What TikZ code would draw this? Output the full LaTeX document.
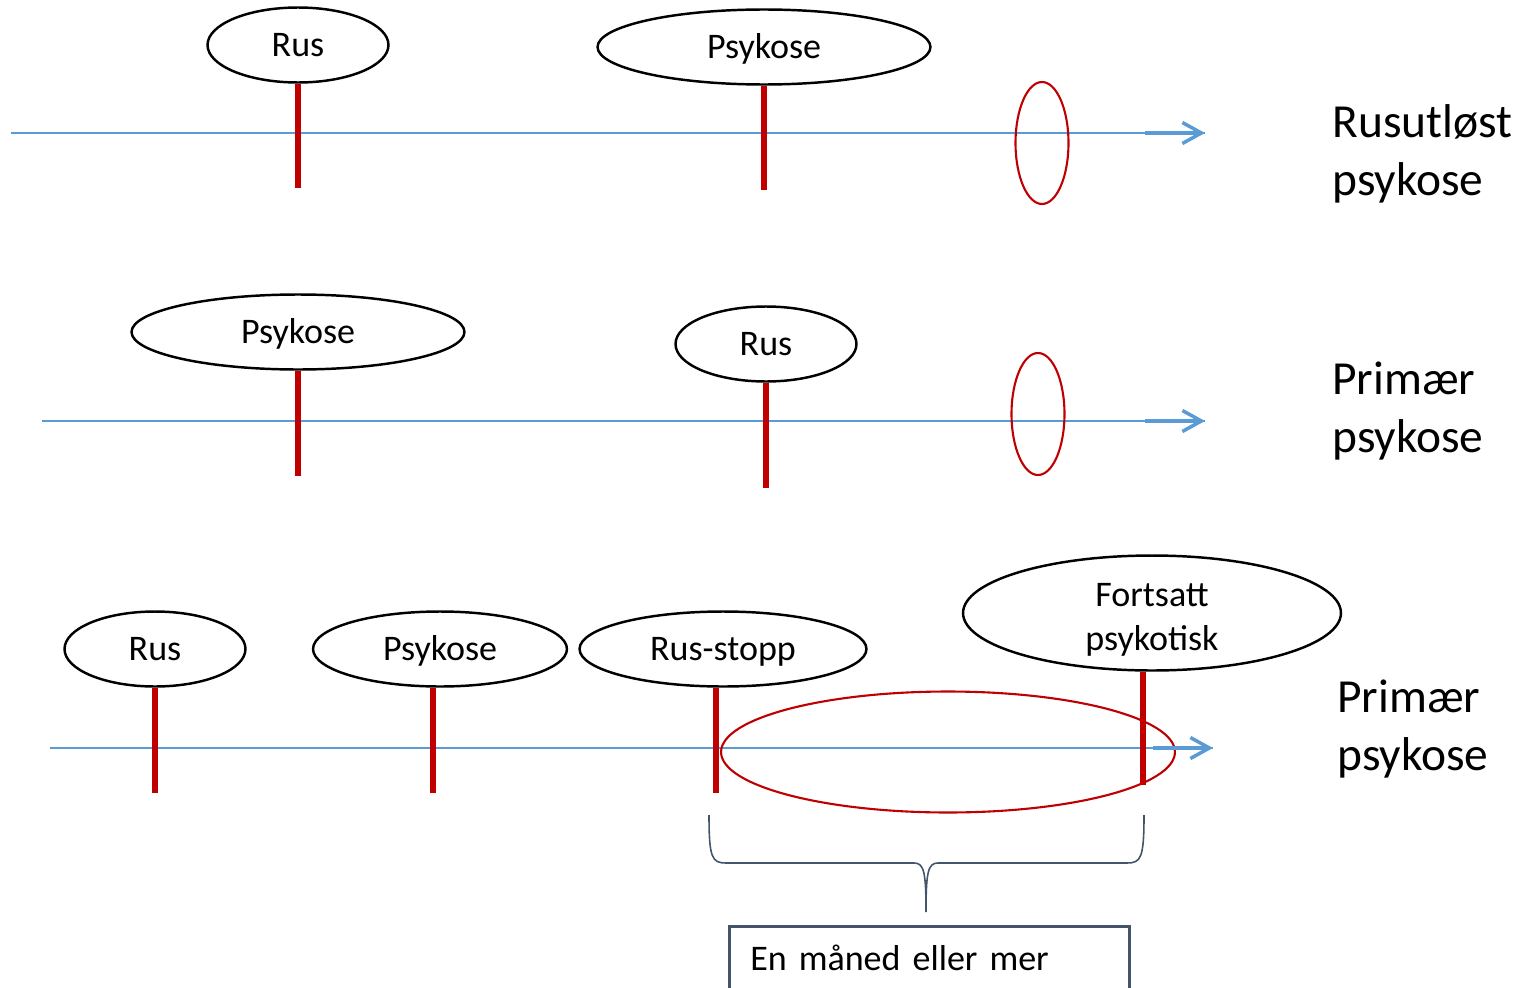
\documentclass[tikz,border=0pt]{standalone}
\usepackage{fontspec}
\setmainfont{Carlito}
\usetikzlibrary{shapes.geometric,arrows.meta}

\definecolor{axisblue}{RGB}{91,155,213}
\definecolor{stickred}{RGB}{192,0,0}
\definecolor{bracegray}{RGB}{68,84,106}

\begin{document}
\begin{tikzpicture}[x=0.02cm, y=-0.02cm,
				event/.style={ellipse, draw=black, line width=1.4pt, inner sep=0pt, minimum width=3.62cm, minimum height=1.5cm, align=center, text height=19pt, text depth=6pt, font=\fontsize{20.5}{25}\selectfont},
				window/.style={ellipse, draw=stickred, line width=1.2pt, inner sep=0pt},
				stick/.style={draw=stickred, line width=3.3pt},
				axis/.style={draw=axisblue, line width=0.75pt},
				arrowhead/.style={draw=axisblue, line width=2pt, -{Straight Barb[length=0.38cm, width=0.42cm]}},
				verdict/.style={anchor=west, inner sep=0pt, align=left, font=\fontsize{27}{33}\selectfont},
				period/.style={rectangle, draw=bracegray, line width=1.5pt, anchor=north west, inner xsep=0.42cm, inner ysep=0pt, text width=7.16cm, text height=0.88cm, text depth=1cm, align=left, font=\fontsize{20.5}{25}\selectfont}
			]
			\clip (0,0) rectangle (1521,987);

			% first line: rus before psykose
			\coordinate (startone) at (11,133);
			\coordinate (bendone) at (1145,133);
			\coordinate (endone) at (1205,133);
			\node[event] (rusone) at (298,45) {Rus};
			\node[event, minimum width=6.66cm] (psykoseone) at (764,47) {Psykose};
			\coordinate (rusoneend) at (298,188);
			\coordinate (psykoseoneend) at (764,190);
			\draw[axis] (startone) -- (endone);
			\node[window, minimum width=1.06cm, minimum height=2.44cm] (windowone) at (1042,143) {};
			\draw[stick] (rusone.south) -- (rusoneend);
			\draw[stick] (psykoseone.south) -- (psykoseoneend);
			\draw[arrowhead] (bendone) -- (endone);
			\node[verdict] (verdictone) at (1332,154) {Rusutløst\\psykose};

			% second line: psykose before rus
			\coordinate (starttwo) at (42,421);
			\coordinate (bendtwo) at (1145,421);
			\coordinate (endtwo) at (1205,421);
			\node[event, minimum width=6.66cm] (psykosetwo) at (298,332) {Psykose};
			\node[event] (rustwo) at (766,344) {Rus};
			\coordinate (psykosetwoend) at (298,476);
			\coordinate (rustwoend) at (766,488);
			\draw[axis] (starttwo) -- (endtwo);
			\node[window, minimum width=1.06cm, minimum height=2.44cm] (windowtwo) at (1038,414) {};
			\draw[stick] (psykosetwo.south) -- (psykosetwoend);
			\draw[stick] (rustwo.south) -- (rustwoend);
			\draw[arrowhead] (bendtwo) -- (endtwo);
			\node[verdict] (verdicttwo) at (1332,411) {Primær\\psykose};

			% third line: psykose goes on after rus-stopp
			\coordinate (startthree) at (50,748);
			\coordinate (bendthree) at (1153,748);
			\coordinate (endthree) at (1213,748);
			\node[event] (rusthree) at (155,649) {Rus};
			\node[event, minimum width=5.08cm] (psykosethree) at (440,649) {Psykose};
			\node[event, minimum width=5.74cm] (stopp) at (723,649) {Rus-stopp};
			\node[event, minimum width=7.56cm, minimum height=2.3cm, inner ysep=-4pt, text height=, text depth=] (fortsatt) at (1152,613) {\rule{0pt}{1em}Fortsatt\\psykotisk};
			\coordinate (rusthreeend) at (155,793);
			\coordinate (psykosethreeend) at (433,793);
			\coordinate (stoppend) at (716,793);
			\coordinate (fortsattend) at (1143,785);
			\draw[axis] (startthree) -- (endthree);
			\node[window, minimum width=9.08cm, minimum height=2.42cm] (windowthree) at (948,752) {};
			\draw[stick] (rusthree.south) -- (rusthreeend);
			\draw[stick] (psykosethreeend |- psykosethree.south) -- (psykosethreeend);
			\draw[stick] (stoppend |- stopp.south) -- (stoppend);
			\draw[stick] (fortsattend |- fortsatt.south) -- (fortsattend);
			\draw[arrowhead] (bendthree) -- (endthree);
			\node[verdict] (verdictthree) at (1337,729) {Primær\\psykose};

			% brace under the window and the box it points to
			\draw[bracegray, line width=0.9pt] (709,815) .. controls (709,858) and (712,863) .. (726,863) -- (914,863)
				.. controls (924,863) and (926,872) .. (926,912)
				.. controls (926,872) and (928,863) .. (938,863) -- (1127,863)
				.. controls (1141,863) and (1144,858) .. (1144,815);
			\node[period] (period) at (728,925) {En måned eller mer};
			\end{tikzpicture}
\end{document}
